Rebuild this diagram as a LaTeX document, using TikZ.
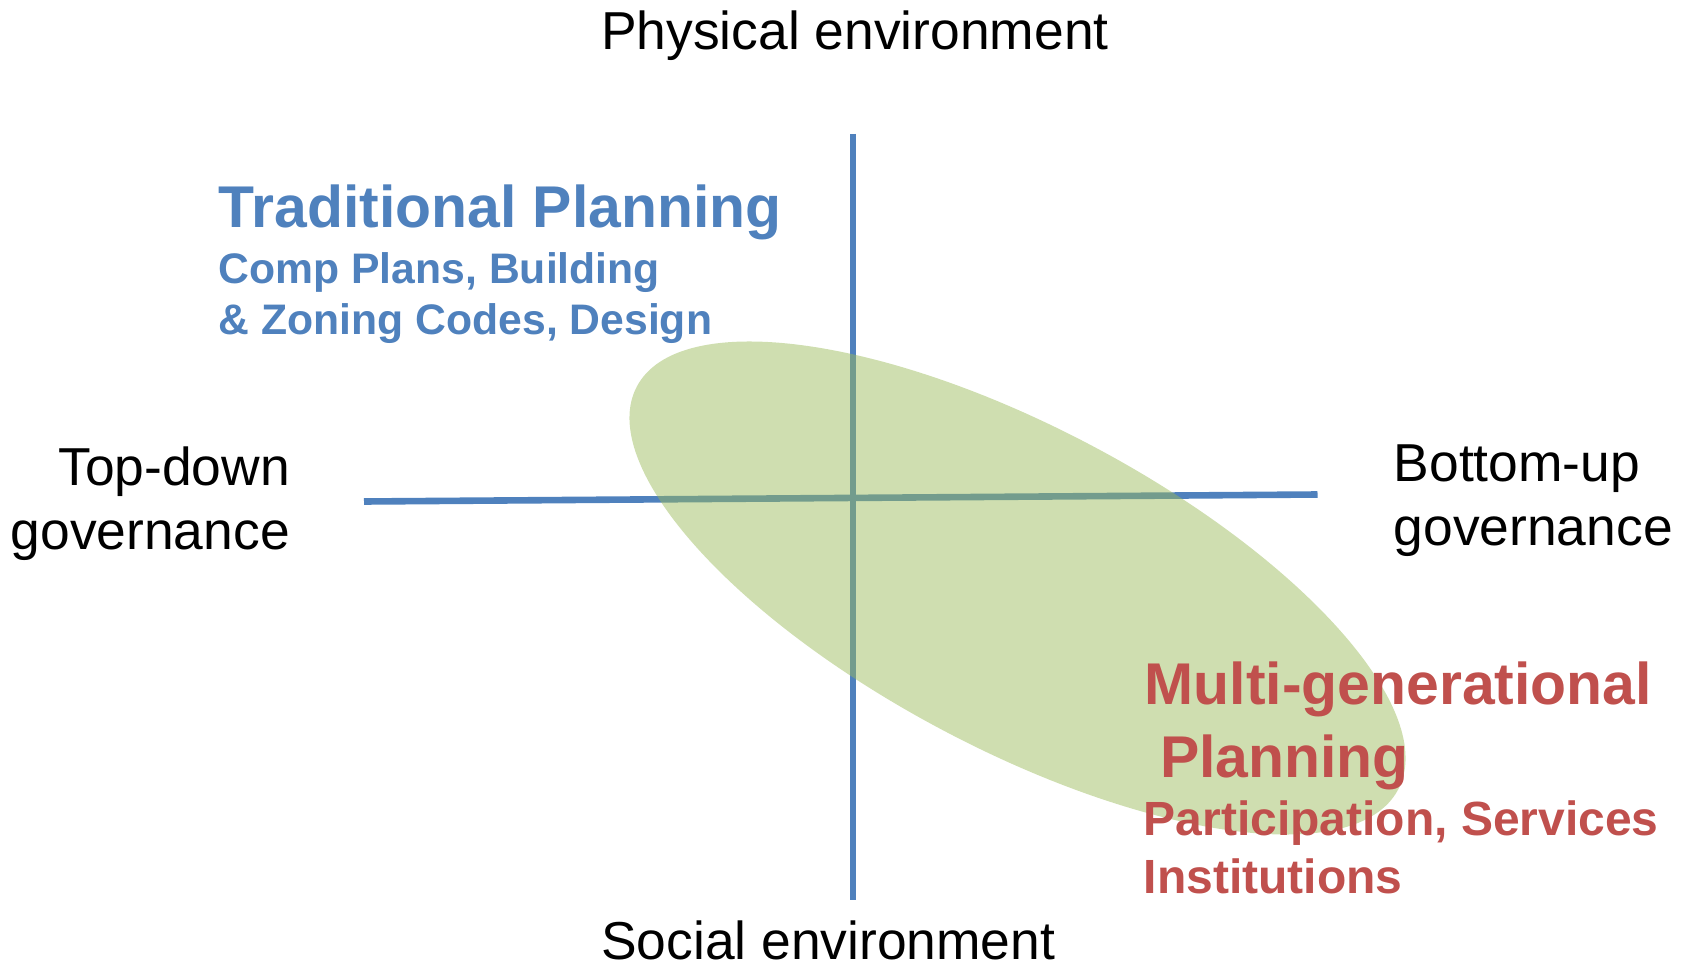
\documentclass[tikz,border=0pt]{standalone}
\usepackage{fontspec}
\setmainfont{Liberation Sans}
\definecolor{axisblue}{HTML}{4F81BD}
\definecolor{planred}{HTML}{C0504D}
\definecolor{blobgreen}{HTML}{9BBB59}
\tikzset{
  axisline/.style={draw=axisblue,line width=6.6pt},
  blob/.style={fill=blobgreen,fill opacity=0.48,draw=none},
  lbl/.style={anchor=base west,inner sep=0pt,font=\fontsize{53.4}{60}\selectfont,text=black},
  lblr/.style={lbl,anchor=base east},
  bighead/.style={anchor=base west,inner sep=0pt,font=\fontsize{58.9}{66}\selectfont\bfseries},
  subblue/.style={anchor=base west,inner sep=0pt,font=\fontsize{42.7}{48}\selectfont\bfseries,text=axisblue},
  subred/.style={anchor=base west,inner sep=0pt,font=\fontsize{48}{54}\selectfont\bfseries,text=planred}
}
\begin{document}
\begin{tikzpicture}[x=1pt,y=-1pt]
\useasboundingbox (0,0) rectangle (1690,963);
\coordinate (vt) at (853,134);
\coordinate (vb) at (853,900);
\coordinate (hl) at (364,501.5);
\coordinate (hr) at (1317.5,494.5);
\draw[axisline] (vt) -- (vb);
\draw[axisline] (hl) -- (hr);
\fill[blob,rotate around={-27.9:(1017.5,588)}] (1017.5,588) ellipse [x radius=430.7,y radius=160.6];
\node[lbl] (phys) at (601,50) {Physical environment};
\node[lbl] (soc) at (601,959) {Social environment};
\node[lblr] (td1) at (290,485) {Top-down};
\node[lblr] (td2) at (290,549) {governance};
\node[lbl] (bu1) at (1393.5,481) {Bottom-up};
\node[lbl] (bu2) at (1393.5,545) {governance};
\node[bighead,text=axisblue] (trad) at (218.5,227) {Traditional Planning};
\node[subblue] (trad1) at (218.5,283) {Comp Plans, Building};
\node[subblue] (trad2) at (218.5,334) {\& Zoning Codes, Design};
\node[bighead,text=planred] (multi1) at (1144.5,704) {Multi-generational};
\node[bighead,text=planred] (multi2) at (1160,777) {Planning};
\node[subred] (part1) at (1143.5,835) {Participation, Services};
\node[subred] (part2) at (1143.5,893) {Institutions};
\end{tikzpicture}
\end{document}
